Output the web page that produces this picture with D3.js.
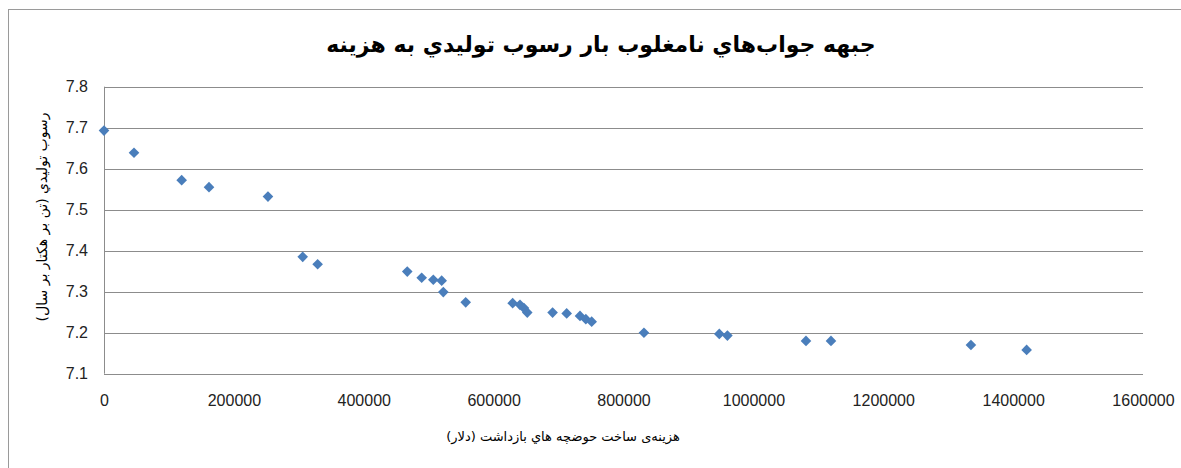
<!DOCTYPE html>
<html>
<head>
<meta charset="utf-8">
<script src="https://cdn.jsdelivr.net/npm/d3@7"></script>
<style>
  body { margin: 0; background: #fff; }
  svg { display: block; }
</style>
</head>
<body>
<div id="chart"></div>
<script>
// data: cost (dollars) vs produced sediment
const hazineh = [
    0, 46200, 119600, 161700, 252500, 306000, 329000,
    467000, 489200, 507100, 520000, 522500, 557000,
    629300, 640600, 646700, 651800,
    690800, 712500, 733000, 742000, 751000,
    831500, 947500, 960000,
    1081000, 1119500, 1335000, 1420800
];
const rosob = [
    7.693, 7.639, 7.572, 7.555, 7.532, 7.385, 7.367,
    7.349, 7.334, 7.329, 7.327, 7.299, 7.274,
    7.272, 7.268, 7.260, 7.249,
    7.249, 7.247, 7.241, 7.233, 7.227,
    7.200, 7.197, 7.193,
    7.180, 7.180, 7.170, 7.158
];
const xTicks = [0, 200000, 400000, 600000, 800000, 1000000, 1200000, 1400000, 1600000];
const yTicks = [7.1, 7.2, 7.3, 7.4, 7.5, 7.6, 7.7, 7.8];

const title = "جبهه جواب‌هاي نامغلوب بار رسوب توليدي به هزينه";
const xTitle = "هزينه‌ى ساخت حوضچه هاي بازداشت (دلار)";
const yTitle = "رسوب توليدي (تن بر هكتار بر سال)";

const width = 1181;
const height = 468;

const svg =
    d3.select("#chart")
      .append("svg")
      .attr("width", width)
      .attr("height", height);

// outer frame
svg.append("rect")
   .attr("x", 8.5)
   .attr("y", 9.5)
   .attr("width", 1180)
   .attr("height", 470)
   .attr("fill", "none")
   .attr("stroke", "#9a9a9a");

const x =
    d3.scaleLinear()
      .domain([0, 1600000])
      .range([104, 1143]);

const y =
    d3.scaleLinear()
      .domain([7.1, 7.8])
      .range([373.7, 86.7]);

// gridlines
svg.append("g")
   .selectAll("line")
   .data(yTicks)
   .enter()
   .append("line")
   .attr("x1", x(0))
   .attr("x2", x(1600000))
   .attr("y1", d => Math.round(y(d)) + 0.5)
   .attr("y2", d => Math.round(y(d)) + 0.5)
   .attr("stroke", "#8c8c8c");

svg.append("line")
   .attr("x1", x(0) + 0.5)
   .attr("x2", x(0) + 0.5)
   .attr("y1", y(7.8))
   .attr("y2", y(7.1))
   .attr("stroke", "#8c8c8c");

const tickFont = "'Liberation Sans', Arial, sans-serif";

svg.append("g")
   .attr("transform", `translate(0,${y(7.1)})`)
   .call(
       d3.axisBottom(x)
         .tickValues(xTicks)
         .tickSize(0)
         .tickPadding(21)
         .tickFormat(d3.format("d"))
   )
   .call(g => g.select(".domain").remove())
   .selectAll("text")
   .attr("font-family", tickFont)
   .attr("font-size", 16)
   .attr("fill", "#222");

svg.append("g")
   .attr("transform", `translate(${x(0)},0)`)
   .call(
       d3.axisLeft(y)
         .tickValues(yTicks)
         .tickSize(0)
         .tickPadding(16)
         .tickFormat(d3.format(".1f"))
   )
   .call(g => g.select(".domain").remove())
   .selectAll("text")
   .attr("font-family", tickFont)
   .attr("font-size", 16)
   .attr("fill", "#222");

// points
const punkte = hazineh.map((h, i) => ({ h: h, r: rosob[i] }));

svg.append("g")
   .selectAll("path")
   .data(punkte)
   .enter()
   .append("path")
   .attr("transform", d => `translate(${x(d.h)},${y(d.r)})`)
   .attr("d", d3.symbol().type(d3.symbolDiamond2).size(72))
   .attr("fill", "#4a7ebb");

// titles
svg.append("text")
   .attr("x", 601)
   .attr("y", 52)
   .attr("text-anchor", "middle")
   .attr("direction", "rtl")
   .attr("font-family", "'DejaVu Sans', sans-serif")
   .attr("font-weight", "bold")
   .attr("font-size", 22)
   .attr("fill", "#000")
   .text(title);

svg.append("text")
   .attr("x", 563)
   .attr("y", 441)
   .attr("text-anchor", "middle")
   .attr("direction", "rtl")
   .attr("font-family", "'DejaVu Sans', sans-serif")
   .attr("font-size", 13)
   .attr("fill", "#000")
   .text(xTitle);

svg.append("text")
   .attr("transform", "translate(47,217) rotate(-90)")
   .attr("text-anchor", "middle")
   .attr("direction", "rtl")
   .attr("font-family", "'DejaVu Sans', sans-serif")
   .attr("font-size", 14)
   .attr("fill", "#000")
   .text(yTitle);
</script>
</body>
</html>
